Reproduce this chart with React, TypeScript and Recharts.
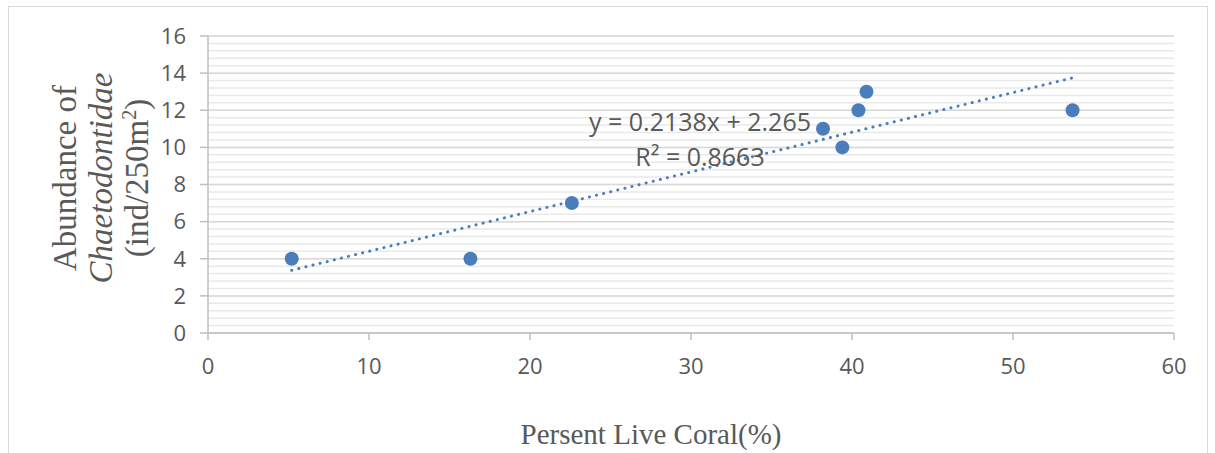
import { ScatterChart, Scatter, XAxis, YAxis, CartesianGrid } from "recharts";

// Persent live coral (%) vs abundance of Chaetodontidae
const CORAL = [5.2, 16.3, 22.6, 38.2, 39.4, 40.4, 40.9, 53.7];
const ABUNDANCE = [4, 4, 7, 11, 10, 12, 13, 12];

// linear trend as printed on the chart
const SLOPE = 0.2138;
const INTERCEPT = 2.265;
const TREND_X = [5.2, 53.7];

const X_TICKS = [0, 10, 20, 30, 40, 50, 60];
const Y_TICKS = [0, 2, 4, 6, 8, 10, 12, 14, 16];
const Y_MAX = 16;
const MINOR_TICKS = Array.from({ length: 41 }, (_, i) => Math.round(i * 4) / 10);

const BLUE = "#4a7ebb";
const TICK_STYLE = { fontSize: 22, fill: "#595959", fontFamily: "Open Sans" };

const points = CORAL.map((x, i) => ({ x, y: ABUNDANCE[i] }));
const trend = TREND_X.map((x) => ({ x, y: SLOPE * x + INTERCEPT }));

// minor gridlines every 0.4, mapped through the plot area
const minorLines = ({ yAxis, offset }: any) => {
  const sc = yAxis && yAxis.scale;
  if (typeof sc === "function") return MINOR_TICKS.map((t) => sc(t));
  return MINOR_TICKS.map((t) => offset.top + offset.height * (1 - t / Y_MAX));
};

export default function App() {
  return (
    <div style={{ position: "fixed", left: 0, top: 0, width: 1215, height: 453, background: "#fff", overflow: "hidden" }}>
      <div
        style={{
          position: "absolute", left: 8, top: 6, width: 1198, height: 470,
          border: "1.5px solid #d9d9d9",
        }}
      />
      <div style={{ position: "absolute", left: 0, top: 0 }}>
        <ScatterChart width={1215} height={453} margin={{ top: 36, right: 41, bottom: 90, left: 148 }}>
          <CartesianGrid
            vertical={false}
            stroke="#e9e9e9"
            strokeWidth={1.5}
            horizontalCoordinatesGenerator={minorLines}
          />
          <CartesianGrid vertical={false} stroke="#d9d9d9" strokeWidth={1.5} />
          <XAxis
            type="number"
            dataKey="x"
            domain={[0, 60]}
            ticks={X_TICKS}
            tick={TICK_STYLE}
            tickSize={7}
            tickMargin={18}
            stroke="#bfbfbf"
            strokeWidth={1.5}
          />
          <YAxis
            type="number"
            dataKey="y"
            domain={[0, Y_MAX]}
            ticks={Y_TICKS}
            tick={TICK_STYLE}
            tickSize={8}
            tickMargin={14}
            width={60}
            stroke="#bfbfbf"
            strokeWidth={1.5}
          />
          <Scatter
            data={trend}
            line={{ stroke: BLUE, strokeWidth: 3, strokeDasharray: "0.1 7.2", strokeLinecap: "round" }}
            shape={() => null}
            isAnimationActive={false}
          />
          <Scatter data={points} fill={BLUE} shape={(p: any) => <circle cx={p.cx} cy={p.cy} r={7} fill={BLUE} />} isAnimationActive={false} />
        </ScatterChart>
      </div>
      <div
        style={{
          position: "absolute", left: 700, top: 139, transform: "translate(-50%, -50%)",
          fontFamily: "Open Sans", fontSize: 25, color: "#595959", textAlign: "center",
          lineHeight: "35px", whiteSpace: "nowrap",
        }}
      >
        <div>y = 0.2138x + 2.265</div>
        <div>R² = 0.8663</div>
      </div>
      <div
        style={{
          position: "absolute", left: 101, top: 178, transform: "translate(-50%, -50%) rotate(-90deg)",
          fontFamily: "Liberation Serif", fontSize: 33, color: "#595959", textAlign: "center",
          lineHeight: "36px", whiteSpace: "nowrap",
        }}
      >
        <div>Abundance of</div>
        <div style={{ fontStyle: "italic" }}>Chaetodontidae</div>
        <div>(ind/250m<sup style={{ fontSize: 20, lineHeight: 0 }}>2</sup>)</div>
      </div>
      <div
        style={{
          position: "absolute", left: 651, top: 434, transform: "translate(-50%, -50%)",
          fontFamily: "Liberation Serif", fontSize: 29, color: "#595959", whiteSpace: "nowrap",
        }}
      >
        Persent Live Coral(%)
      </div>
    </div>
  );
}
